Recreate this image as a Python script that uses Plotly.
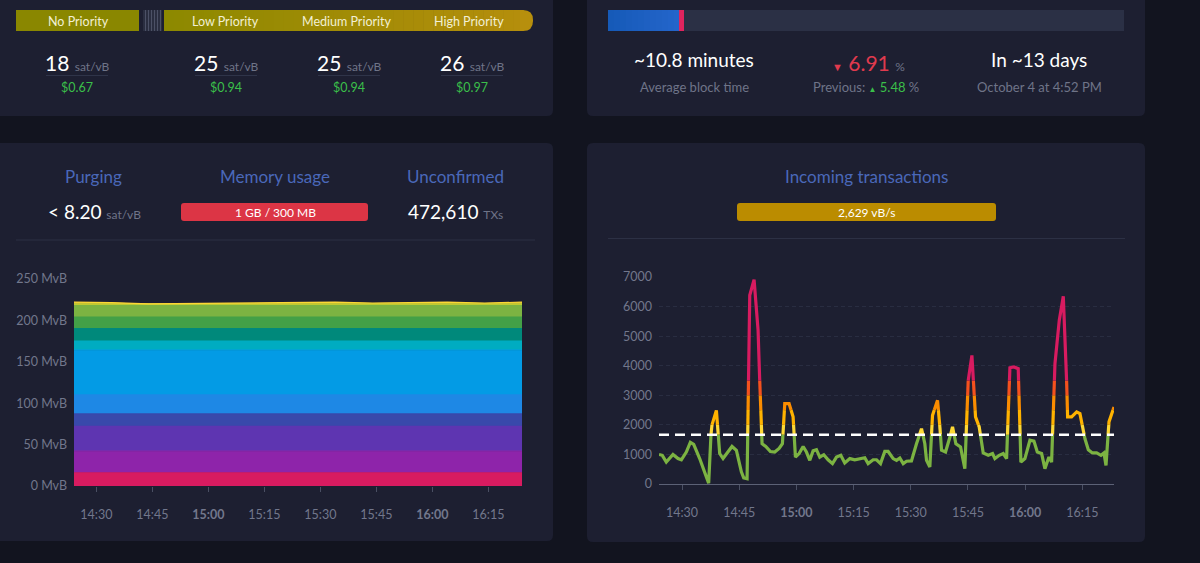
import plotly.graph_objects as go
import pandas as pd

W, H = 1200, 563
DAY = "2023-09-21 "

# ---------------- data ----------------
fee_labels = ["No Priority", "Low Priority", "Medium Priority", "High Priority"]
fee_rates = [18, 25, 25, 26]
fee_usd = ["$0.67", "$0.94", "$0.94", "$0.97"]

avg_block_time = "~10.8 minutes"
diff_change = "6.91"
prev_change = "5.48"
retarget_in = "In ~13 days"
retarget_date = "October 4 at 4:52 PM"

purging_rate = "8.20"
memory_usage = "1 GB / 300 MB"
unconfirmed_txs = "472,610"
incoming_rate = "2,629 vB/s"

tick_labels = ["14:30", "14:45", "15:00", "15:15", "15:30", "15:45", "16:00", "16:15"]
bold_ticks = ["15:00", "16:00"]

# mempool size by fee range (MvB per layer)
mempool_times = ["14:24", "14:34", "14:44", "14:54", "15:04", "15:14", "15:24",
                 "15:34", "15:44", "15:54", "16:04", "16:14", "16:24"]
layer_names = ["1-2", "2-3", "3-4", "4-5", "5-6", "6-8", "8-10", "10-12",
               "12-15", "15-20", "20-30", "30-40"]
fee_1_2 = [16, 16, 16, 16, 16, 16, 16, 16, 16, 16, 16, 16, 16]
fee_2_3 = [26, 26, 26, 26, 26, 26, 26, 26, 26, 26, 26, 26, 26]
fee_3_4 = [30, 30, 30, 30, 30, 30, 30, 30, 30, 30, 30, 30, 30]
fee_4_5 = [15, 15, 15, 15, 15, 15, 15, 15, 15, 15, 15, 15, 15]
fee_5_6 = [23, 23, 23, 23, 23, 23, 23, 23, 23, 23, 23, 23, 23]
fee_6_8 = [54, 54, 54, 54, 54, 54, 54, 54, 54, 54, 54, 54, 54]
fee_8_10 = [11, 11, 11, 11, 11, 11, 11, 11, 11, 11, 11, 11, 11]
fee_10_12 = [15, 15, 15, 15, 15, 15, 15, 15, 15, 15, 15, 15, 15]
fee_12_15 = [14, 14, 14, 14, 14, 14, 14, 14, 14, 14, 14, 14, 14]
fee_15_20 = [14, 14, 14, 14, 14, 14, 14, 14, 14, 14, 14, 14, 14]
fee_20_30 = [2, 2, 1.5, 1.5, 2, 2, 2, 2, 2, 2, 2, 2, 2]
fee_30_40 = [2, 1.5, 0.5, 1, 1, 1, 1.5, 2, 1, 1.5, 2, 1, 2]

# incoming transactions (vB/s)
inc_times = ["14:23:58", "14:24:50", "14:25:53", "14:27:38", "14:28:57", "14:29:50", "14:31:08",
             "14:32:11", "14:33:04", "14:34:38", "14:36:23", "14:37:00", "14:37:42", "14:39:01",
             "14:39:53", "14:40:46", "14:41:49", "14:43:07", "14:44:16", "14:45:34", "14:46:11",
             "14:47:04", "14:47:46", "14:48:54", "14:49:57", "14:50:23", "14:51:00", "14:51:58",
             "14:53:11", "14:54:19", "14:55:28", "14:56:20", "14:56:57", "14:58:05", "14:59:08",
             "14:59:45", "15:00:43", "15:01:46", "15:02:38", "15:03:31", "15:04:23", "15:05:16",
             "15:06:08", "15:07:11", "15:08:19", "15:09:28", "15:10:31", "15:11:39", "15:12:41",
             "15:14:01", "15:15:19", "15:16:38", "15:17:56", "15:18:49", "15:20:08", "15:21:01",
             "15:22:04", "15:23:11", "15:24:04", "15:25:23", "15:26:16", "15:27:08", "15:28:01",
             "15:28:53", "15:30:11", "15:31:30", "15:32:49", "15:33:41", "15:34:08", "15:35:00",
             "15:35:42", "15:37:01", "15:37:38", "15:38:04", "15:39:07", "15:40:05", "15:40:57",
             "15:41:50", "15:43:03", "15:44:11", "15:45:04", "15:46:02", "15:46:59", "15:47:57",
             "15:49:00", "15:50:19", "15:51:27", "15:52:04", "15:53:12", "15:54:15", "15:55:08",
             "15:56:00", "15:57:03", "15:58:11", "15:58:53", "15:59:56", "16:01:15", "16:02:18",
             "16:03:11", "16:04:19", "16:05:11", "16:06:14", "16:06:56", "16:07:49", "16:08:57",
             "16:10:00", "16:10:52", "16:11:08", "16:12:11", "16:13:30", "16:14:22", "16:15:41",
             "16:16:34", "16:17:37", "16:18:45", "16:19:53", "16:20:40", "16:21:12", "16:21:59",
             "16:23:18"]
inc_values = [1000, 970, 740, 1000, 860, 820, 1080,
              1410, 1340, 860, 240, 30, 1930, 2490,
              1030, 860, 1050, 1270, 1140, 410, 210,
              180, 6380, 6910, 5200, 3500, 1360, 1270,
              1100, 1080, 1200, 1360, 2720, 2720, 2270,
              910, 1030, 1270, 1080, 800, 1120, 1160,
              910, 990, 820, 690, 910, 970, 710,
              860, 820, 860, 890, 690, 820, 820,
              690, 1100, 1100, 860, 800, 880, 690,
              770, 780, 1360, 1870, 1360, 800, 575,
              2320, 2830, 1930, 1140, 1080, 1480, 1930,
              1360, 1250, 520, 3500, 4350, 2270, 1930,
              1050, 970, 1030, 860, 970, 1030, 860,
              3930, 3960, 3900, 740, 860, 1480, 1450,
              1080, 1030, 520, 910, 740, 4070, 5540,
              6350, 3500, 2270, 2270, 2440, 2380, 1530,
              1160, 1050, 1050, 970, 1050, 630, 2100,
              2600]
block_limit_rate = 1667  # 1 MvB per 10 minutes

# ---------------- styles ----------------
PAGE_BG = "#12141f"
CARD_BG = "#1d1f31"
TITLE_C = "#4a68b9"
GRAY = "#6f7488"
AXIS_C = "#72778c"
GREEN = "#3bbf4a"
RED = "#e03a4e"
FONT = "Lato"
layer_colors = ["#D81B60", "#8E24AA", "#5E35B1", "#3949AB", "#1E88E5", "#039BE5",
                "#00ACC1", "#00897B", "#43A047", "#7CB342", "#C0CA33", "#FDD835"]
bands = [(0, 1667, "#7CB342"), (1667, 2000, "#FDD835"), (2000, 2500, "#FFB300"),
         (2500, 3000, "#FB8C00"), (3000, 3500, "#F4511E"), (3500, 1e9, "#D81B60")]


def px(x):
    return x / W


def py(y):
    return 1 - y / H


def rrect(x0, y0, x1, y1, r, color, r_left=True, r_right=True):
    rx, ry = r / W, r / H
    X0, X1, Y0, Y1 = px(x0), px(x1), py(y0), py(y1)  # Y0 top, Y1 bottom
    rl = (rx, ry) if r_left else (0, 0)
    rr = (rx, ry) if r_right else (0, 0)
    p = (f"M {X0 + rl[0]},{Y0} L {X1 - rr[0]},{Y0} Q {X1},{Y0} {X1},{Y0 - rr[1]} "
         f"L {X1},{Y1 + rr[1]} Q {X1},{Y1} {X1 - rr[0]},{Y1} L {X0 + rl[0]},{Y1} "
         f"Q {X0},{Y1} {X0},{Y1 + rl[1]} L {X0},{Y0 - rl[1]} Q {X0},{Y0} {X0 + rl[0]},{Y0} Z")
    return dict(type="path", path=p, xref="paper", yref="paper", fillcolor=color,
                line=dict(width=0), layer="below")


def rect(x0, y0, x1, y1, color, layer="below"):
    return dict(type="rect", xref="paper", yref="paper", x0=px(x0), x1=px(x1),
                y0=py(y1), y1=py(y0), fillcolor=color, line=dict(width=0), layer=layer)


def hline(x0, x1, y, color, width=1):
    return dict(type="line", xref="paper", yref="paper", x0=px(x0), x1=px(x1),
                y0=py(y), y1=py(y), line=dict(color=color, width=width), layer="below")


def hexmix(c1, c2, f):
    a = [int(c1[i:i + 2], 16) for i in (1, 3, 5)]
    b = [int(c2[i:i + 2], 16) for i in (1, 3, 5)]
    return "#" + "".join(f"{round(a[k] + (b[k] - a[k]) * f):02x}" for k in range(3))


shapes = []
annots = []


def text(x, y, s, size=13, color="#ffffff", anchor="center"):
    annots.append(dict(x=px(x), y=py(y), xref="paper", yref="paper", text=s, showarrow=False,
                       xanchor=anchor, yanchor="middle",
                       font=dict(family=FONT, size=size, color=color)))


# cards
shapes.append(rrect(-10, -20, 553, 116, 6, CARD_BG))
shapes.append(rrect(587, -20, 1145, 116, 6, CARD_BG))
shapes.append(rrect(-10, 143, 553, 541, 6, CARD_BG))
shapes.append(rrect(587, 143, 1145, 542, 6, CARD_BG))

# ---- fee priority bar ----
shapes.append(rect(16, 10, 139, 31, "#8a8700"))
shapes.append(rect(143, 10, 162, 31, "#2a2e40"))
for sx in range(145, 162, 3):
    shapes.append(rect(sx, 10, sx + 1, 31, "#4c5166"))
nseg = 36
seg_w = (523 - 164) / nseg
for i in range(nseg):
    shapes.append(rect(164 + i * seg_w, 10, 164 + (i + 1) * seg_w + 0.6, 31,
                       hexmix("#8d8900", "#b58e0c", i / nseg)))
shapes.append(rrect(520, 10, 533, 31, 10, "#b78f0d", r_left=False))
fee_label_x = [78, 225, 347, 469]
for lbl, xc in zip(fee_labels, fee_label_x):
    text(xc, 21, lbl, 12.5, "#f2f0d4")

fee_val_x = [77, 226, 349, 472]
for r, usd, xc in zip(fee_rates, fee_usd, fee_val_x):
    text(xc, 62, f"{r} <span style='font-size:12px;color:{GRAY}'>sat/vB</span>", 21)
    shapes.append(hline(xc - 31, xc + 31, 75.5, "#2f3449"))
    text(xc, 87, usd, 12.5, GREEN)

# ---- difficulty adjustment ----
shapes.append(rect(608, 10, 1124, 31, "#2b3045"))
for i in range(12):
    shapes.append(rect(608 + i * 6, 10, 608 + (i + 1) * 6 + 0.5, 31,
                       hexmix("#165ab8", "#2566cc", i / 12)))
shapes.append(rect(679, 10, 684, 31, "#e0245e"))
text(694, 60, avg_block_time, 19)
text(694, 87, "Average block time", 13, GRAY)
text(868, 62, f"<span style='font-size:11px'>▼</span> {diff_change} "
              f"<span style='font-size:12px;color:{GRAY}'>%</span>", 21, RED)
text(866, 87, f"Previous: <span style='color:{GREEN}'><span style='font-size:8px'>▲</span> "
              f"{prev_change}</span> %", 13, GRAY)
text(1039, 60, retarget_in, 19)
text(1039, 87, retarget_date, 13, GRAY)

# ---- mempool header ----
text(93, 177, "Purging", 17, TITLE_C)
text(94, 211, f"&lt; {purging_rate} <span style='font-size:12px;color:{GRAY}'>sat/vB</span>", 19)
text(275, 177, "Memory usage", 17, TITLE_C)
shapes.append(rrect(181, 203, 368, 221, 3, "#dc3545"))
text(275, 212, memory_usage, 12, "#ffffff")
text(455, 177, "Unconfirmed", 17, TITLE_C)
text(455, 211, f"{unconfirmed_txs} <span style='font-size:12px;color:{GRAY}'>TXs</span>", 19)
shapes.append(hline(16, 535, 240, "#2c3044"))

# ---- incoming header ----
text(866, 177, "Incoming transactions", 17, TITLE_C)
shapes.append(rrect(737, 203, 996, 221, 3, "#bb8c00"))
text(866, 212, incoming_rate, 12, "#ffffff")
shapes.append(hline(608, 1125, 238.5, "#2c3044"))

# ---------------- charts ----------------
fig = go.Figure()

layers = [fee_1_2, fee_2_3, fee_3_4, fee_4_5, fee_5_6, fee_6_8, fee_8_10, fee_10_12,
          fee_12_15, fee_15_20, fee_20_30, fee_30_40]
mx = [DAY + t for t in mempool_times]
for name, vals, col in zip(layer_names, layers, layer_colors):
    fig.add_trace(go.Scatter(x=mx, y=vals, name=name, stackgroup="mem", mode="lines",
                             line=dict(width=1.2, color=col), fillcolor=col,
                             xaxis="x", yaxis="y", hoverinfo="skip"))

# incoming transactions, coloured by value bands
base = pd.Timestamp("2023-09-21")
secs = [(pd.Timestamp(DAY + t) - base).total_seconds() for t in inc_times]


def band_points(lo, hi):
    xs, ys = [], []
    last = None
    for i in range(len(inc_values) - 1):
        t0, t1 = secs[i], secs[i + 1]
        v0, v1 = inc_values[i], inc_values[i + 1]
        if v1 == v0:
            if lo <= v0 <= hi:
                a, b = 0.0, 1.0
            else:
                continue
        else:
            a = (lo - v0) / (v1 - v0)
            b = (hi - v0) / (v1 - v0)
            a, b = min(a, b), max(a, b)
            a, b = max(a, 0.0), min(b, 1.0)
            if a >= b:
                continue
        p0 = (t0 + a * (t1 - t0), v0 + a * (v1 - v0))
        p1 = (t0 + b * (t1 - t0), v0 + b * (v1 - v0))
        if last is not None and abs(last[0] - p0[0]) < 1e-6 and abs(last[1] - p0[1]) < 1e-6:
            xs.append(base + pd.Timedelta(seconds=p1[0])); ys.append(p1[1])
        else:
            if xs:
                xs.append(None); ys.append(None)
            xs.append(base + pd.Timedelta(seconds=p0[0])); ys.append(p0[1])
            xs.append(base + pd.Timedelta(seconds=p1[0])); ys.append(p1[1])
        last = p1
    return xs, ys


for lo, hi, col in bands:
    bx, by = band_points(lo, hi)
    fig.add_trace(go.Scatter(x=bx, y=by, mode="lines", line=dict(color=col, width=3.2),
                             connectgaps=False, xaxis="x2", yaxis="y2", hoverinfo="skip",
                             showlegend=False))

fig.add_trace(go.Scatter(x=[DAY + inc_times[0], DAY + inc_times[-1]],
                         y=[block_limit_rate, block_limit_rate], mode="lines",
                         line=dict(color="#ffffff", width=2.5, dash="10px,6px"),
                         xaxis="x2", yaxis="y2", hoverinfo="skip", showlegend=False))

tickvals = [DAY + t for t in tick_labels]
ticktext = [f"<b>{t}</b>" if t in bold_ticks else t for t in tick_labels]

axis_font = dict(family=FONT, size=12.5, color=AXIS_C)
common_x = dict(type="date", tickmode="array", tickvals=tickvals, ticktext=ticktext,
                showgrid=False, zeroline=False, ticks="outside", ticklen=5, tickwidth=1,
                tickcolor="#4a4f63", tickfont=axis_font, ticklabelstandoff=12,
                fixedrange=True, automargin=False)

fig.update_layout(
    width=W, height=H, autosize=False,
    margin=dict(l=0, r=0, t=0, b=0, pad=0, autoexpand=False),
    paper_bgcolor=PAGE_BG, plot_bgcolor="rgba(0,0,0,0)",
    showlegend=False,
    font=dict(family=FONT, color="#ffffff"),
    shapes=shapes, annotations=annots,
    xaxis=dict(**common_x, domain=[px(74), px(522)], anchor="y",
               range=[DAY + "14:24", DAY + "16:24"], showline=False),
    yaxis=dict(domain=[py(486), py(279)], anchor="x", range=[0, 250],
               tickmode="array", tickvals=[0, 50, 100, 150, 200, 250],
               ticktext=[f"{v} MvB" for v in [0, 50, 100, 150, 200, 250]],
               showgrid=True, gridcolor="#2b2f44", griddash="dot", zeroline=False,
               tickfont=axis_font, ticklabelstandoff=6, fixedrange=True, automargin=False),
    xaxis2=dict(**common_x, domain=[px(659), px(1114)], anchor="y2",
                range=[DAY + inc_times[0], DAY + inc_times[-1]],
                showline=True, linecolor="#5c6176", linewidth=1),
    yaxis2=dict(domain=[py(484), py(277)], anchor="x2", range=[0, 7000],
                tickmode="array", tickvals=[0, 1000, 2000, 3000, 4000, 5000, 6000, 7000],
                ticktext=["0", "1000", "2000", "3000", "4000", "5000", "6000", "7000"],
                showgrid=True, gridcolor="#292d41", griddash="4px,3px", zeroline=False,
                tickfont=axis_font, ticklabelstandoff=6, fixedrange=True, automargin=False),
)

fig.write_html("out.html", config={"displayModeBar": False, "staticPlot": True},
               post_script="document.body.style.margin='0';"
                           "document.body.style.overflow='hidden';"
                           "document.documentElement.style.overflow='hidden';")
